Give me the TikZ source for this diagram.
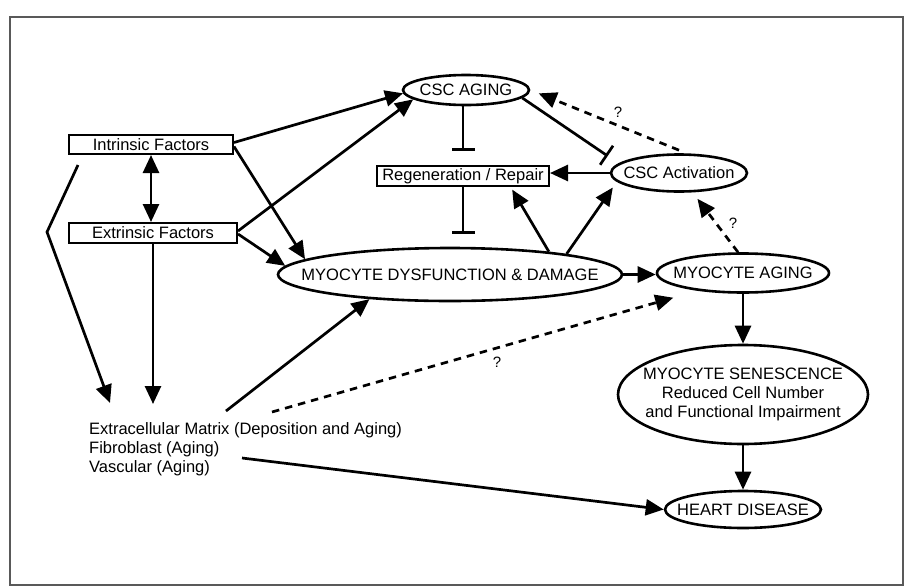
\documentclass[tikz,border=0pt]{standalone}
\usepackage{fontspec}
\setmainfont{Liberation Sans}
\usetikzlibrary{arrows.meta,shapes.geometric,calc}
\newcommand{\mkz}[1]{\makebox[0pt]{#1}}
\begin{document}
\begin{tikzpicture}[x=1pt,y=-1pt,
  font=\fontsize{16.5}{19}\selectfont,
  ell/.style={draw, ellipse, line width=2.6pt, inner sep=0pt},
  fbox/.style={draw, rectangle, line width=2pt, inner sep=0pt},
  plain/.style={inner sep=0pt, anchor=base west},
  qm/.style={inner sep=0pt, font=\fontsize{15}{17}\selectfont},
  arr/.style={line width=2.7pt, -{Triangle[length=18pt,width=16pt]}},
  dblarr/.style={line width=2.7pt, {Triangle[length=18pt,width=16pt]}-{Triangle[length=18pt,width=16pt]}},
  dasharr/.style={arr, dash pattern=on 7.5pt off 6pt},
  inh/.style={line width=2.7pt, -{Bar[width=23pt]}},
  ln/.style={line width=2.7pt}
]
\useasboundingbox (0,0) rectangle (908,587);
\draw[line width=1.4pt, black!65] (10,17) rectangle (903,585);

% nodes
\node[fbox, minimum width=164pt, minimum height=19pt] (intr) at (151,144.5) {Intrinsic Factors};
\node[fbox, minimum width=168pt, minimum height=20pt] (extr) at (153,233) {Extrinsic Factors};
\node[ell, minimum width=126pt, minimum height=30pt] (cscaging) at (466,90) {\mkz{CSC AGING}};
\node[fbox, minimum width=172pt, minimum height=20pt] (regen) at (463,176) {Regeneration / Repair};
\node[ell, minimum width=136pt, minimum height=37pt] (cscact) at (679,173) {\mkz{CSC Activation}};
\node[ell, minimum width=344pt, minimum height=53pt] (mdd) at (450,274.5) {\mkz{MYOCYTE DYSFUNCTION \& DAMAGE}};
\node[ell, minimum width=172pt, minimum height=39pt] (myoaging) at (743,273) {\mkz{MYOCYTE AGING}};
\node[ell, minimum width=250pt, minimum height=99pt] (senes) at (743,394.5)
  {\mkz{\begin{tabular}{@{}c@{}}MYOCYTE SENESCENCE\\Reduced Cell Number\\and Functional Impairment\end{tabular}}};
\node[ell, minimum width=156pt, minimum height=37pt] (heart) at (743,509.5) {\mkz{HEART DISEASE}};

\node[plain] (ecm1) at (89,434) {Extracellular Matrix (Deposition and Aging)};
\node[plain] (ecm2) at (89,453) {Fibroblast (Aging)};
\node[plain] (ecm3) at (89,472) {Vascular (Aging)};

\node[qm] (q1) at (618,112) {?};
\node[qm] (q2) at (733,223) {?};
\node[qm] (q3) at (497,362) {?};

\coordinate (b0) at (78,165);
\coordinate (b1) at (47,232);

% connectors
\draw[dblarr] (intr.south) -- (intr.south |- extr.north);
\draw[arr] (b0) -- (b1) -- ($(ecm1.base west)+(21,-31)$);
\draw[arr] (extr.south) -- ($(extr.south |- ecm1.base)+(0,-30)$);

\draw[arr] ([yshift=2pt]intr.east) -- (cscaging.183);
\draw[arr] ([yshift=2pt]extr.east) -- (cscaging.190);
\draw[arr] ([yshift=-2pt]intr.east) -- (mdd.174);
\draw[arr] ([yshift=-1pt]extr.east) -- (mdd.177);

\draw[inh] (regen.north |- cscaging.south) -- ($(regen.north)+(0,-14)$);
\draw[inh] (regen.south) -- ($(regen.south |- mdd.north)+(0,-13)$);
\draw[inh] (cscaging.-8) -- ($(cscact.west)+(-2,-17)$);

\draw[arr] (cscact.west) -- (regen.east |- cscact.west);
\draw[arr, shorten >=3pt] (mdd.13) -- (regen.-13);
\draw[arr, shorten >=7pt] (mdd.10) -- (cscact.188);
\draw[dasharr, shorten >=9pt] ([yshift=3pt]cscact.north) -- (cscaging.east);
\draw[dasharr, shorten >=8pt] ([xshift=-5pt]myoaging.north) -- (cscact.-55);

\draw[arr] (mdd.east) -- (myoaging.west |- mdd.east);
\draw[arr] (myoaging.south) -- (senes.north);
\draw[arr] (senes.south) -- (heart.north);

\draw[arr] ($(ecm1.base west)+(137,-23)$) -- (mdd.197);
\draw[dasharr] ($(ecm1.base west)+(183,-22)$) -- ($(myoaging.south west)+(-8,10)$);
\draw[arr] ($(ecm2.base west)+(153,5)$) -- (heart.west);
\end{tikzpicture}
\end{document}
